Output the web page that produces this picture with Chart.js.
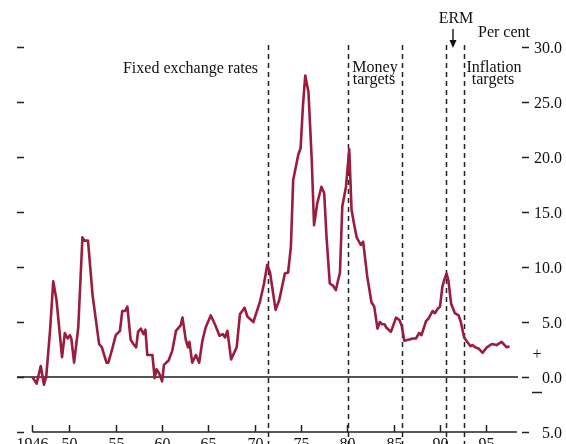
<!DOCTYPE html>
<html>
<head>
<meta charset="utf-8">
<script src="https://cdn.jsdelivr.net/npm/chart.js@4"></script>
<style>
  body { margin: 0; background: #fff; }
</style>
</head>
<body>
<canvas id="chart" width="566" height="444"></canvas>
<script>
// inflation, per cent
const years = [
  1946.0, 1946.45, 1946.9, 1947.25, 1947.5, 1947.9, 1948.25, 1948.6, 1949.2, 1949.5,
  1949.8, 1950.05, 1950.2, 1950.5, 1950.95, 1951.4, 1951.6, 1952.0, 1952.5, 1953.2,
  1953.5, 1954.0, 1954.2, 1954.6, 1955.0, 1955.45, 1955.7, 1956.0, 1956.25, 1956.6,
  1956.9, 1957.2, 1957.4, 1957.7, 1958.0, 1958.2, 1958.4, 1958.95, 1959.2, 1959.4,
  1959.7, 1960.0, 1960.2, 1960.7, 1961.1, 1961.5, 1962.0, 1962.2, 1962.55, 1962.8,
  1962.95, 1963.25, 1963.65, 1964.0, 1964.35, 1964.7, 1965.25, 1965.7, 1966.2, 1966.55,
  1966.8, 1967.05, 1967.45, 1968.05, 1968.4, 1968.9, 1969.2, 1969.85, 1970.55, 1971.0,
  1971.35, 1971.65, 1972.25, 1972.65, 1972.9, 1973.25, 1973.6, 1973.9, 1974.15, 1974.45,
  1974.7, 1974.95, 1975.2, 1975.45, 1975.8, 1976.15, 1976.4, 1976.75, 1977.2, 1977.5,
  1977.75, 1978.1, 1978.45, 1978.75, 1979.2, 1979.45, 1979.85, 1980.2, 1980.45, 1980.7,
  1981.0, 1981.45, 1981.7, 1982.15, 1982.6, 1982.9, 1983.25, 1983.5, 1983.75, 1984.0,
  1984.2, 1984.7, 1985.25, 1985.6, 1985.85, 1986.15, 1986.7, 1987.05, 1987.4, 1987.75,
  1988.0, 1988.5, 1988.75, 1989.2, 1989.45, 1989.75, 1990.0, 1990.25, 1990.45, 1990.7,
  1990.9, 1991.2, 1991.6, 1992.0, 1992.25, 1992.6, 1992.85, 1993.3, 1993.5, 1993.8,
  1994.15, 1994.6, 1995.05, 1995.6, 1996.1, 1996.65, 1997.2, 1997.5
];
const inflation = [
  0.0, -0.6, 1.0, -0.7, 0.1, 4.2, 8.7, 7.0, 1.8, 4.0,
  3.5, 3.8, 3.5, 1.3, 4.5, 12.7, 12.4, 12.4, 7.4, 3.0,
  2.7, 1.3, 1.3, 2.5, 3.8, 4.2, 6.0, 6.0, 6.4, 3.4,
  3.0, 2.7, 4.1, 4.4, 3.9, 4.3, 2.0, 2.0, -0.1, 0.7,
  0.3, -0.4, 1.1, 1.5, 2.4, 4.2, 4.7, 5.4, 3.4, 2.7,
  3.2, 1.3, 2.0, 1.3, 3.3, 4.5, 5.6, 4.8, 3.75, 3.9,
  3.6, 4.2, 1.6, 2.7, 5.7, 6.3, 5.5, 5.0, 6.8, 8.5,
  10.2, 9.5, 6.1, 7.0, 8.0, 9.4, 9.5, 11.8, 17.9, 19.15,
  20.2, 20.8, 24.6, 27.4, 25.9, 19.8, 13.8, 15.8, 17.3, 16.7,
  12.7, 8.5, 8.3, 7.9, 9.5, 15.5, 17.3, 20.7, 15.2, 14.0,
  12.7, 12.0, 12.3, 9.1, 6.8, 6.4, 4.4, 5.0, 4.8, 4.8,
  4.5, 4.1, 5.4, 5.2, 4.7, 3.3, 3.4, 3.5, 3.5, 4.0,
  3.8, 5.1, 5.3, 6.0, 5.8, 6.2, 6.4, 8.2, 8.8, 9.4,
  8.8, 6.65, 5.8, 5.6, 5.0, 3.6, 3.3, 2.8, 2.9, 2.7,
  2.6, 2.2, 2.7, 3.0, 2.9, 3.2, 2.7, 2.8
];

// policy regime changes (dashed lines)
const regimeBreaks = [1971.45, 1980.05, 1985.95, 1990.6, 1992.55];

const xTicks = [1946, 1950, 1955, 1960, 1965, 1970, 1975, 1980, 1985, 1990, 1995];
const xTickLabels = ['1946', '50', '55', '60', '65', '70', '75', '80', '85', '90', '95'];
const yTicks = [-5, 0, 5, 10, 15, 20, 25, 30];
const yTickLabels = ['5.0', '0.0', '5.0', '10.0', '15.0', '20.0', '25.0', '30.0'];

const FONT = '16px "Liberation Serif", "DejaVu Serif", serif';

const decorations = {
  id: 'decorations',
  beforeDatasetsDraw(chart) {
    const ctx = chart.ctx;
    const xs = chart.scales.x, ys = chart.scales.y;
    ctx.save();
    // zero line
    ctx.strokeStyle = '#555';
    ctx.lineWidth = 2;
    ctx.beginPath();
    const y0 = ys.getPixelForValue(0);
    ctx.moveTo(17, y0);
    ctx.lineTo(518, y0);
    ctx.stroke();
    // regime lines
    ctx.strokeStyle = '#222';
    ctx.lineWidth = 1.5;
    ctx.setLineDash([5, 4]);
    regimeBreaks.forEach(b => {
      const px = Math.round(xs.getPixelForValue(b)) + 0.5;
      ctx.beginPath();
      ctx.moveTo(px, 45);
      ctx.lineTo(px, 444);
      ctx.stroke();
    });
    ctx.restore();
  },
  afterDraw(chart) {
    const ctx = chart.ctx;
    const xs = chart.scales.x, ys = chart.scales.y;
    ctx.save();
    ctx.strokeStyle = '#222';
    ctx.fillStyle = '#111';
    ctx.lineWidth = 1.5;
    ctx.font = FONT;

    // bottom axis
    const yb = ys.getPixelForValue(-5);
    ctx.beginPath();
    ctx.moveTo(xs.getPixelForValue(1946), yb);
    ctx.lineTo(xs.getPixelForValue(1998.3), yb);
    ctx.stroke();
    ctx.textAlign = 'center';
    ctx.textBaseline = 'alphabetic';
    xTicks.forEach((t, i) => {
      const px = Math.round(xs.getPixelForValue(t)) + 0.5;
      ctx.beginPath();
      ctx.moveTo(px, yb - 7);
      ctx.lineTo(px, yb);
      ctx.stroke();
      ctx.fillText(xTickLabels[i], px, yb + 17);
    });

    // y ticks both sides, labels on the right
    ctx.textAlign = 'right';
    ctx.textBaseline = 'middle';
    yTicks.forEach((t, i) => {
      const py = Math.round(ys.getPixelForValue(t)) + 0.5;
      ctx.beginPath();
      ctx.moveTo(17, py);
      ctx.lineTo(24, py);
      ctx.moveTo(522, py);
      ctx.lineTo(529, py);
      ctx.stroke();
      ctx.fillText(yTickLabels[i], 562, py + 1);
    });

    // sign markers
    ctx.textAlign = 'center';
    ctx.fillText('+', 537, 355);
    ctx.beginPath();
    ctx.moveTo(532, 392.5);
    ctx.lineTo(542, 392.5);
    ctx.stroke();

    // annotations
    ctx.textAlign = 'right';
    ctx.fillText('Fixed exchange rates', 258, 69);
    ctx.textAlign = 'center';
    ctx.fillText('Money', 375, 68);
    ctx.fillText('targets', 374, 80);
    ctx.fillText('Inflation', 494, 68);
    ctx.fillText('targets', 493, 80);
    ctx.fillText('ERM', 456, 19);
    ctx.textAlign = 'left';
    ctx.fillText('Per cent', 478, 33);

    // ERM arrow
    const ax = 453;
    ctx.beginPath();
    ctx.moveTo(ax, 29);
    ctx.lineTo(ax, 46);
    ctx.stroke();
    ctx.beginPath();
    ctx.moveTo(ax - 3.5, 40);
    ctx.lineTo(ax, 48);
    ctx.lineTo(ax + 3.5, 40);
    ctx.closePath();
    ctx.fill();
    ctx.restore();
  }
};

new Chart(document.getElementById('chart'), {
  type: 'line',
  data: {
    datasets: [{
      data: years.map((x, i) => ({ x: x, y: inflation[i] })),
      borderColor: '#9b1c3f',
      borderWidth: 2.6,
      borderJoinStyle: 'round',
      pointRadius: 0,
      tension: 0
    }]
  },
  options: {
    responsive: false,
    animation: false,
    layout: { padding: { left: 25, right: 44, top: 47, bottom: 12 } },
    scales: {
      x: { type: 'linear', min: 1945.2, max: 1998.85, display: false },
      y: { min: -5, max: 30, display: false }
    },
    plugins: {
      legend: { display: false },
      tooltip: { enabled: false }
    }
  },
  plugins: [decorations]
});
</script>
</body>
</html>
